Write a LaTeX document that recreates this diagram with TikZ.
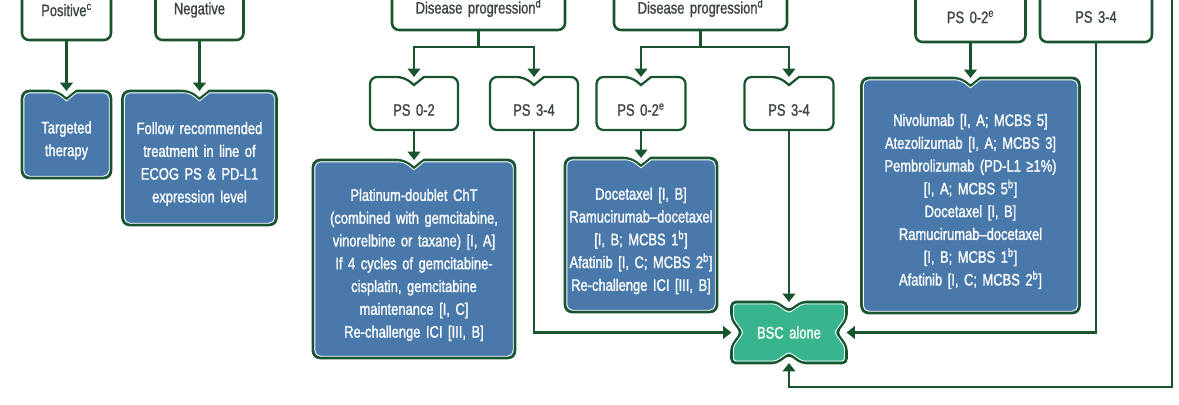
\documentclass[tikz,border=0pt]{standalone}
\usepackage{fontspec}
\setmainfont{Liberation Sans}[FakeStretch=0.78,FakeBold=1.2]
\usetikzlibrary{arrows.meta,backgrounds}

\definecolor{dkgreen}{RGB}{24,84,46}
\definecolor{boxblue}{RGB}{73,121,170}
\definecolor{bscgreen}{RGB}{56,180,142}
\definecolor{greytext}{RGB}{62,70,66}

% box outline with a V-notch in the top edge
\newcommand\notchpath[3]{% node, inset, corner radius
  ([xshift=7.1pt,yshift=-#2]#1.north) [rounded corners=#3]
  -| ([xshift=-#2,yshift=#2]#1.south east)
  -| ([xshift=#2,yshift=-#2]#1.north west)
  -- ([xshift=-7.1pt,yshift=-#2]#1.north) [sharp corners]
  -- ([yshift=-5.7pt-#2]#1.north) -- cycle}

% notched on all four sides, used around its centre
\newcommand\bscpath[1]{%
  (0,-21.5+#1) -- (13,-30.5+#1) -- (57.5-#1,-30.5+#1) -- (57.5-#1,-14)
  -- (47.5-#1,0) -- (57.5-#1,14) -- (57.5-#1,30.5-#1) -- (13,30.5-#1)
  -- (0,21.5-#1) -- (-13,30.5-#1) -- (-57.5+#1,30.5-#1) -- (-57.5+#1,14)
  -- (-47.5+#1,0) -- (-57.5+#1,-14) -- (-57.5+#1,-30.5+#1) -- (-13,-30.5+#1) -- cycle}

\tikzset{
  every node/.style={font=\fontsize{11.8}{16.2}\selectfont, inner sep=0pt, outer sep=0pt},
  sz/.style 2 args={minimum width=#1*0.025cm, minimum height=#2*0.025cm, text width=#1*0.025cm},
  arr/.style={draw=dkgreen, line width=2pt, -{Triangle[width=9pt,length=6pt]}},
  topbox/.style={draw=dkgreen, line width=1.8pt, rounded corners=5pt, fill=white, text=greytext, align=center},
  psbox/.style={text=greytext, align=center, execute at begin node={\rule{0pt}{17.5pt}}},
  txtbox/.style={text=white, align=center, execute at begin node={\rule{0pt}{17pt}}},
  bluefill/.style={fill=boxblue, draw=dkgreen, line width=1.8pt},
  whitefill/.style={fill=white, draw=dkgreen, line width=1.6pt},
  bscfill/.style={fill=bscgreen, draw=dkgreen, line width=1.8pt, rounded corners=3pt},
  innerline/.style={draw=white, line width=0.6pt},
}

\begin{document}
\begin{tikzpicture}[x=0.025cm, y=-0.025cm]
\useasboundingbox (0,0) rectangle (1179,404);
\clip (0,0) rectangle (1179,404);

% mutation status
\node[topbox, sz={89}{60}] (pos) at (66.5,10) {Positive\textsuperscript{c}};
\node[topbox, sz={88}{60}] (neg) at (199.5,10) {Negative};
\node[txtbox, sz={89}{87}] (tgt) at (66.5,134.5) {Targeted\\therapy};
\node[txtbox, sz={154}{134}] (follow) at (199.5,158) {Follow recommended\\treatment in line of\\ECOG PS \& PD-L1\\expression level};

% progression after first line
\node[topbox, sz={173}{44}] (dp1) at (478.5,8) {Disease progression\textsuperscript{d}};
\node[psbox, sz={88}{53}] (ps02a) at (414,103.5) {PS 0-2};
\node[psbox, sz={88}{53}] (ps34a) at (534,103.5) {PS 3-4};
\node[txtbox, sz={202}{198}] (plat) at (414,259) {Platinum-doublet ChT\\(combined with gemcitabine,\\vinorelbine or taxane) [I, A]\\If 4 cycles of gemcitabine-\\cisplatin, gemcitabine\\maintenance [I, C]\\Re-challenge ICI [III, B]};

\node[topbox, sz={173}{44}] (dp2) at (700.5,8) {Disease progression\textsuperscript{d}};
\node[psbox, sz={89}{53}] (ps02b) at (641,103.5) {PS 0-2\textsuperscript{e}};
\node[psbox, sz={89}{53}] (ps34b) at (789,103.5) {PS 3-4};
\node[txtbox, sz={152}{154}] (doce) at (641,235) {Docetaxel [I, B]\\Ramucirumab--docetaxel\\{[I, B; MCBS 1\textsuperscript{b}]}\\Afatinib [I, C; MCBS 2\textsuperscript{b}]\\Re-challenge ICI [III, B]};

\node[text=white, align=center, sz={115}{61}] (bsc) at (789,332.5) {BSC alone};

\node[topbox, sz={110}{50}] (ps02c) at (970.5,17) {PS 0-2\textsuperscript{e}};
\node[topbox, sz={112}{50}] (ps34c) at (1096,17) {PS 3-4};
\node[txtbox, sz={218}{235}] (nivo) at (970.5,195.5) {Nivolumab [I, A; MCBS 5]\\Atezolizumab [I, A; MCBS 3]\\Pembrolizumab (PD-L1 ≥1\%)\\{[I, A; MCBS 5\textsuperscript{b}]}\\Docetaxel [I, B]\\Ramucirumab--docetaxel\\{[I, B; MCBS 1\textsuperscript{b}]}\\Afatinib [I, C; MCBS 2\textsuperscript{b}]};

\coordinate (fr) at (1172,-10);
\coordinate (frb) at (1172,387);

% box outlines behind the text
\begin{scope}[on background layer]
\clip (0,0) rectangle (1179,404);
\foreach \b in {tgt,follow,plat,doce,nivo}{
  \path[bluefill] \notchpath{\b}{0pt}{5pt};
  \path[innerline] \notchpath{\b}{1.3pt}{4pt};
}
\foreach \b in {ps02a,ps34a,ps02b,ps34b}
  \path[whitefill] \notchpath{\b}{0pt}{5pt};
\path[bscfill, shift={(bsc.center)}] \bscpath{0};
\path[innerline, rounded corners=2pt, shift={(bsc.center)}] \bscpath{2};
\end{scope}

% connectors
\draw[arr] (pos.south) -- (tgt.north);
\draw[arr] (neg.south) -- (follow.north);
\draw[arr] (dp1.south) -- ++(0,17) -| (ps02a.north);
\draw[arr] (dp1.south) -- ++(0,17) -| (ps34a.north);
\draw[arr] (ps02a.south) -- (plat.north);
\draw[arr] (ps34a.south) |- (bsc.west);
\draw[arr] (dp2.south) -- ++(0,17) -| (ps02b.north);
\draw[arr] (dp2.south) -- ++(0,17) -| (ps34b.north);
\draw[arr] (ps02b.south) -- (doce.north);
\draw[arr] (ps34b.south) -- (bsc.north);
\draw[arr] (ps02c.south) -- (nivo.north);
\draw[arr] (ps34c.south) |- (bsc.east);
\draw[arr] (fr) -- (frb) -| (bsc.south);
\end{tikzpicture}
\end{document}
